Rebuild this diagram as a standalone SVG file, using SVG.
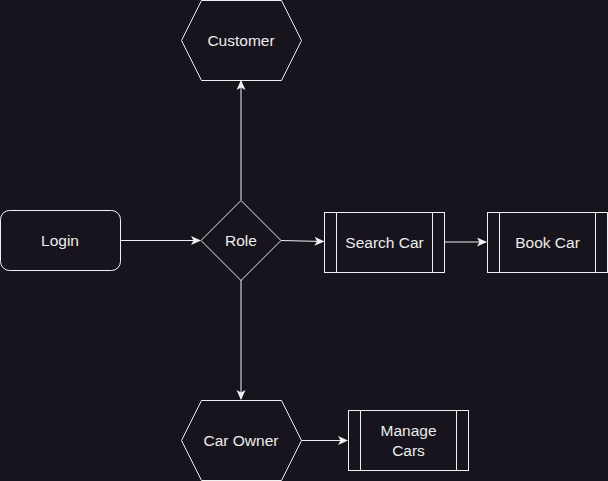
<svg xmlns="http://www.w3.org/2000/svg" width="608" height="481" viewBox="0 0 608 481">
<defs>
<marker id="arr" markerUnits="userSpaceOnUse" markerWidth="12" markerHeight="10" refX="9" refY="4.5" orient="auto">
<path d="M0,0 L10,4.5 L0,9 L2.5,4.5 Z" fill="#f0f0f0"/>
</marker>
</defs>
<style>
.s{fill:#18141d;stroke:#f0f0f0;stroke-width:1}
.l{fill:none;stroke:#f0f0f0;stroke-width:1}
.c{fill:none;stroke:#f0f0f0;stroke-width:1;marker-end:url(#arr)}
text{font-family:"Liberation Sans",Arial,sans-serif;font-size:15.5px;fill:#ececec;text-anchor:middle}
</style>
<rect width="608" height="481" fill="#18141d"/>
<g id="connectors">
<path class="c" d="M120.5,240.5 L200,240.5"/>
<path class="c" d="M281,240.5 L323.5,241.5"/>
<path class="c" d="M444.5,242 L486,242"/>
<path class="c" d="M241,200 L241,81"/>
<path class="c" d="M241,280 L241,399"/>
<path class="c" d="M301,440.5 L347,440.5"/>
</g>
<g id="customer">
<path class="s" d="M201.5,0.5 L281.5,0.5 L301.5,40.5 L281.5,80.5 L201.5,80.5 L181.5,40.5 Z"/>
<text x="241" y="46">Customer</text>
</g>
<g id="login">
<rect class="s" x="0.5" y="210.5" width="120" height="60" rx="9"/>
<text x="60" y="246">Login</text>
</g>
<g id="role">
<path class="s" d="M241,200.5 L281,240.5 L241,280.5 L201,240.5 Z"/>
<text x="241" y="246">Role</text>
</g>
<g id="search-car">
<rect class="s" x="324.5" y="212.5" width="120" height="60"/>
<path class="l" d="M336.5,212.5 V272.5 M432.5,212.5 V272.5"/>
<text x="384.5" y="248">Search Car</text>
</g>
<g id="book-car">
<rect class="s" x="487.5" y="212.5" width="120" height="60"/>
<path class="l" d="M499.5,212.5 V272.5 M595.5,212.5 V272.5"/>
<text x="547.5" y="248">Book Car</text>
</g>
<g id="car-owner">
<path class="s" d="M201.5,400.5 L281.5,400.5 L301.5,440.5 L281.5,480.5 L201.5,480.5 L181.5,440.5 Z"/>
<text x="241" y="446">Car Owner</text>
</g>
<g id="manage-cars">
<rect class="s" x="348.5" y="410.5" width="120" height="60"/>
<path class="l" d="M360.5,410.5 V470.5 M456.5,410.5 V470.5"/>
<text x="408.5" y="436">Manage</text>
<text x="408.5" y="456">Cars</text>
</g>
</svg>
